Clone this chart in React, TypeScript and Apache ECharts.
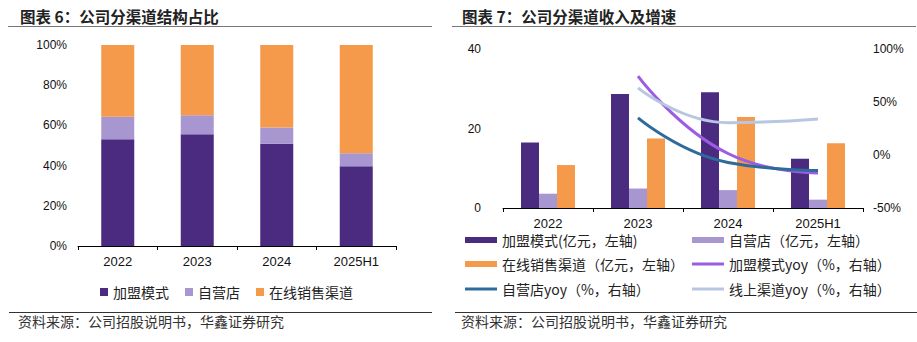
import React, { useEffect, useRef } from "react";
import * as echarts from "echarts";

const years = ["2022", "2023", "2024", "2025H1"];
const shareFranchise = [53.1, 55.6, 50.9, 39.7];
const shareSelf = [11.2, 9.4, 8.0, 6.4];
const shareOnline = [35.7, 35.0, 41.1, 53.9];
const revFranchise = [16.5, 28.7, 29.1, 12.4];
const revSelf = [3.6, 4.9, 4.5, 2.1];
const revOnline = [10.8, 17.5, 22.9, 16.3];
const yoyFranchise = [null, 74.5, 1.4, -17.0];
const yoySelf = [null, 35.0, -7.0, -14.7];
const yoyOnline = [null, 63.4, 30.5, 34.0];
const leftTicks = [0, 100, 20];
const rightRevTicks = [0, 40, 20];
const rightYoyTicks = [-50, 100, 50];

const C_DARK = "#4B2B80";
const C_LAV = "#A896D0";
const C_ORG = "#F5994B";
const C_VIO = "#9B5DE3";
const C_BLUE = "#2E6B9B";
const C_LBLUE = "#B7C7E1";

const CJK = "'Noto Sans CJK SC', sans-serif";
const NUM = "'Liberation Sans', Arial, sans-serif";

export default function App() {
  const ref = useRef<HTMLDivElement>(null);
  useEffect(() => {
    if (!ref.current) return;
    const chart = echarts.init(ref.current, undefined, { renderer: "svg" });
    const axisLabelX = { color: "#111", fontSize: 13, fontFamily: NUM, margin: 9 };
    const axisLabelY = { color: "#111", fontSize: 12, fontFamily: NUM };
    const legendText = { color: "#222", fontSize: 14, fontFamily: CJK };
    const mkLegend = (name: string, left: number, top: number, h: number) => ({
      data: [name],
      left,
      top,
      icon: "rect",
      itemWidth: 32,
      itemHeight: h,
      textStyle: legendText,
      selectedMode: false,
      padding: 0,
    });
    chart.setOption({
      animation: false,
      backgroundColor: "#fff",
      grid: [
        { left: 78, top: 45, width: 318, height: 201 },
        { left: 503, top: 49, width: 360, height: 159 },
      ],
      xAxis: [
        {
          type: "category",
          gridIndex: 0,
          data: years,
          axisLine: { lineStyle: { color: "#000", width: 1 } },
          axisTick: { show: true, length: 4, lineStyle: { color: "#000" } },
          axisLabel: axisLabelX,
        },
        {
          type: "category",
          gridIndex: 1,
          data: years,
          axisLine: { lineStyle: { color: "#000", width: 1 } },
          axisTick: { show: true, length: 4, lineStyle: { color: "#000" } },
          axisLabel: axisLabelX,
        },
      ],
      yAxis: [
        {
          type: "value",
          gridIndex: 0,
          min: leftTicks[0],
          max: leftTicks[1],
          interval: leftTicks[2],
          splitLine: { show: false },
          axisLine: { show: false },
          axisTick: { show: false },
          axisLabel: { ...axisLabelY, margin: 11, formatter: "{value}%" },
        },
        {
          type: "value",
          gridIndex: 1,
          min: rightRevTicks[0],
          max: rightRevTicks[1],
          interval: rightRevTicks[2],
          splitLine: { show: false },
          axisLine: { show: false },
          axisTick: { show: false },
          axisLabel: { ...axisLabelY, margin: 22 },
        },
        {
          type: "value",
          gridIndex: 1,
          position: "right",
          min: rightYoyTicks[0],
          max: rightYoyTicks[1],
          interval: rightYoyTicks[2],
          splitLine: { show: false },
          axisLine: { show: false },
          axisTick: { show: false },
          axisLabel: { ...axisLabelY, margin: 10, formatter: "{value}%" },
        },
      ],
      legend: [
        {
          data: ["加盟模式", "自营店", "在线销售渠道"],
          left: 100,
          top: 285,
          icon: "rect",
          itemWidth: 8,
          itemHeight: 8,
          itemGap: 16,
          textStyle: legendText,
          selectedMode: false,
          padding: 0,
        },
        mkLegend("加盟模式(亿元，左轴)", 465, 233, 6),
        mkLegend("自营店（亿元，左轴）", 692, 233, 6),
        mkLegend("在线销售渠道（亿元，左轴）", 465, 257, 6),
        mkLegend("加盟模式yoy（%，右轴）", 692, 257, 3),
        mkLegend("自营店yoy（%，右轴）", 465, 282, 3),
        mkLegend("线上渠道yoy（%，右轴）", 692, 282, 3),
      ],
      series: [
        { name: "加盟模式", type: "bar", stack: "s", xAxisIndex: 0, yAxisIndex: 0, data: shareFranchise, barWidth: 33, itemStyle: { color: C_DARK } },
        { name: "自营店", type: "bar", stack: "s", xAxisIndex: 0, yAxisIndex: 0, data: shareSelf, barWidth: 33, itemStyle: { color: C_LAV } },
        { name: "在线销售渠道", type: "bar", stack: "s", xAxisIndex: 0, yAxisIndex: 0, data: shareOnline, barWidth: 33, itemStyle: { color: C_ORG } },
        { name: "加盟模式(亿元，左轴)", type: "bar", xAxisIndex: 1, yAxisIndex: 1, data: revFranchise, barWidth: 18, barGap: "0%", itemStyle: { color: C_DARK } },
        { name: "自营店（亿元，左轴）", type: "bar", xAxisIndex: 1, yAxisIndex: 1, data: revSelf, barWidth: 18, barGap: "0%", itemStyle: { color: C_LAV } },
        { name: "在线销售渠道（亿元，左轴）", type: "bar", xAxisIndex: 1, yAxisIndex: 1, data: revOnline, barWidth: 18, barGap: "0%", itemStyle: { color: C_ORG } },
        { name: "加盟模式yoy（%，右轴）", type: "line", xAxisIndex: 1, yAxisIndex: 2, data: yoyFranchise, smooth: true, showSymbol: false, symbol: "none", lineStyle: { color: C_VIO, width: 3 }, itemStyle: { color: C_VIO } },
        { name: "自营店yoy（%，右轴）", type: "line", xAxisIndex: 1, yAxisIndex: 2, data: yoySelf, smooth: true, showSymbol: false, symbol: "none", lineStyle: { color: C_BLUE, width: 3 }, itemStyle: { color: C_BLUE } },
        { name: "线上渠道yoy（%，右轴）", type: "line", xAxisIndex: 1, yAxisIndex: 2, data: yoyOnline, smooth: true, showSymbol: false, symbol: "none", lineStyle: { color: C_LBLUE, width: 3 }, itemStyle: { color: C_LBLUE } },
      ],
      graphic: [
        { type: "text", left: 20, top: 8, style: { text: "图表 6：公司分渠道结构占比", font: `bold 15.5px ${CJK}`, fill: "#222" } },
        { type: "text", left: 462, top: 8, style: { text: "图表 7：公司分渠道收入及增速", font: `bold 15.5px ${CJK}`, fill: "#222" } },
        { type: "line", shape: { x1: 8, y1: 26.5, x2: 432, y2: 26.5 }, style: { stroke: "#777", lineWidth: 1 } },
        { type: "line", shape: { x1: 452, y1: 26.5, x2: 916, y2: 26.5 }, style: { stroke: "#777", lineWidth: 1 } },
        { type: "line", shape: { x1: 9, y1: 312.5, x2: 432, y2: 312.5 }, style: { stroke: "#333", lineWidth: 1 } },
        { type: "line", shape: { x1: 455, y1: 312.5, x2: 917, y2: 312.5 }, style: { stroke: "#333", lineWidth: 1 } },
        { type: "text", left: 18, top: 314, style: { text: "资料来源：公司招股说明书，华鑫证券研究", font: `14px ${CJK}`, fill: "#333" } },
        { type: "text", left: 461, top: 314, style: { text: "资料来源：公司招股说明书，华鑫证券研究", font: `14px ${CJK}`, fill: "#333" } },
      ],
    });
    return () => chart.dispose();
  }, []);
  return (
    <div
      ref={ref}
      style={{ position: "absolute", left: 0, top: 0, width: 917, height: 342, background: "#fff" }}
    />
  );
}
